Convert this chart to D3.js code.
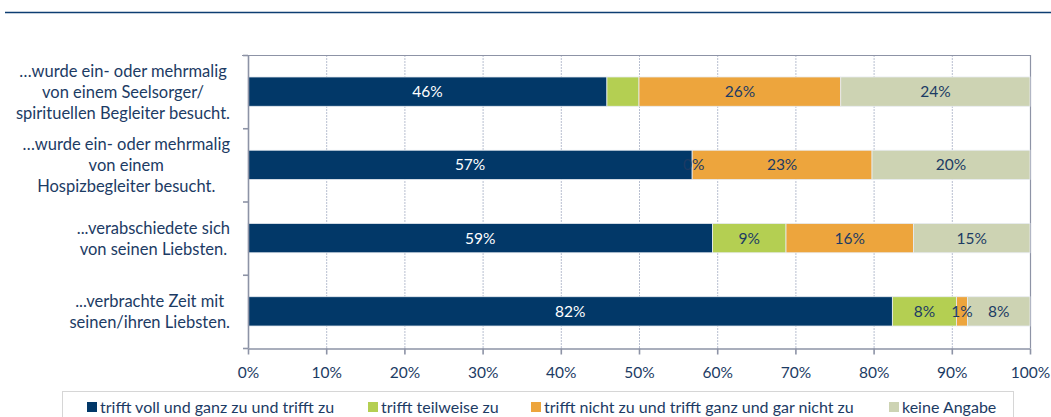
<!DOCTYPE html>
<html>
<head>
<meta charset="utf-8">
<script src="https://cdn.jsdelivr.net/npm/d3@7"></script>
<style>
  html, body { margin: 0; padding: 0; background: #fff; }
  svg { display: block; }
  text { font-family: Lato, "Open Sans", sans-serif; }
</style>
</head>
<body>
<svg id="chart" width="1051" height="417"></svg>
<script>
// ---------- data ----------
const categories = [
  ["…wurde ein- oder mehrmalig", "von einem Seelsorger/", "spirituellen Begleiter besucht."],
  ["…wurde ein- oder mehrmalig", "von einem", "Hospizbegleiter besucht."],
  ["...verabschiedete sich", "von seinen Liebsten."],
  ["...verbrachte Zeit mit", "seinen/ihren Liebsten."]
];
const seriesNames = [
  "trifft voll und ganz zu und trifft zu",
  "trifft teilweise zu",
  "trifft nicht zu und trifft ganz und gar nicht zu",
  "keine Angabe"
];
const vollZu      = [45.9, 56.8, 59.4, 82.4];
const teilweise   = [4.1, 0.0, 9.4, 8.2];
const nichtZu     = [25.8, 23.0, 16.3, 1.4];
const keineAngabe = [24.2, 20.2, 14.9, 8.0];
// which data labels are displayed (1 = shown)
const showVollZu      = [1, 1, 1, 1];
const showTeilweise   = [0, 1, 1, 1];
const showNichtZu     = [1, 1, 1, 1];
const showKeineAngabe = [1, 1, 1, 1];
const xTicks = [0, 10, 20, 30, 40, 50, 60, 70, 80, 90, 100];

// ---------- styles ----------
const colors = ["#023868", "#b4cf52", "#eda53d", "#cdd3b3"];
const labelColors = ["#ffffff", "#1c3b64", "#1c3b64", "#1c3b64"];
const textColor = "#1c3b64";
const axisColor = "#8d93a6";

const series = [vollZu, teilweise, nichtZu, keineAngabe];
const shows = [showVollZu, showTeilweise, showNichtZu, showKeineAngabe];

const svg = d3.select("#chart");

// top rule
svg.append("line")
  .attr("x1", 5).attr("x2", 1051).attr("y1", 12.5).attr("y2", 12.5)
  .attr("stroke", "#0d3d72").attr("stroke-width", 1.5);

const pLeft = 248, pRight = 1030, pTop = 55, pBottom = 348;
const x = d3.scaleLinear().domain([0, 100]).range([pLeft, pRight]);
const y = d3.scaleBand().domain(d3.range(categories.length))
  .range([pTop, pBottom]).paddingInner(0.6).paddingOuter(0.3);
const yEdge = d3.scaleLinear().domain([0, categories.length]).range([pTop, pBottom]);

// gridlines
svg.append("g").selectAll("line").data(xTicks.slice(1, -1)).join("line")
  .attr("x1", d => x(d) + 0.5).attr("x2", d => x(d) + 0.5)
  .attr("y1", pTop).attr("y2", pBottom)
  .attr("stroke", "#b8bfd0").attr("stroke-width", 1)
  .attr("stroke-dasharray", "2,1");

// plot border (top and right)
svg.append("line").attr("x1", pLeft - 6).attr("x2", pRight + 0.5)
  .attr("y1", pTop + 0.5).attr("y2", pTop + 0.5)
  .attr("stroke", axisColor).attr("stroke-width", 1.2);
svg.append("line").attr("x1", pRight + 0.5).attr("x2", pRight + 0.5)
  .attr("y1", pTop).attr("y2", pBottom)
  .attr("stroke", axisColor).attr("stroke-width", 1.2);

// stacked bars
const stacked = categories.map((c, i) => {
  let acc = 0;
  return series.map((s, k) => {
    const seg = { row: i, k, x0: acc, x1: acc + s[i], v: s[i], show: shows[k][i] };
    acc += s[i];
    return seg;
  });
}).flat();

svg.append("g").selectAll("rect").data(stacked).join("rect")
  .attr("x", d => x(d.x0))
  .attr("y", d => y(d.row))
  .attr("width", d => x(d.x1) - x(d.x0))
  .attr("height", y.bandwidth())
  .attr("fill", d => colors[d.k])
  .attr("stroke", "#e8ecf2").attr("stroke-width", 0.8);

svg.append("g").selectAll("text").data(stacked.filter(d => d.show)).join("text")
  .attr("x", d => (x(d.x0) + x(d.x1)) / 2 + (d.v === 0 ? 1.5 : 0))
  .attr("y", d => y(d.row) + y.bandwidth() / 2)
  .attr("dy", "0.36em")
  .attr("text-anchor", "middle")
  .attr("font-size", 15.5)
  .attr("fill", d => labelColors[d.k])
  .text(d => Math.round(d.v) + "%");

// y axis
const yAxis = svg.append("g").attr("transform", `translate(${pLeft},0)`)
  .call(d3.axisLeft(yEdge).tickValues(d3.range(categories.length + 1))
    .tickFormat("").tickSizeInner(5).tickSizeOuter(0));
yAxis.selectAll("path,line").attr("stroke", axisColor).attr("stroke-width", 1.6);

// category labels: block right-aligned, lines centered within block
const labG = svg.append("g");
categories.forEach((lines, i) => {
  const g = labG.append("g");
  const lh = 21;
  const cy = y(i) + y.bandwidth() / 2;
  const texts = lines.map((t, j) => g.append("text")
    .attr("y", cy + (j - (lines.length - 1) / 2) * lh)
    .attr("dy", "0.36em")
    .attr("text-anchor", "middle")
    .attr("font-size", 16.5)
    .attr("fill", textColor)
    .text(t));
  const maxW = d3.max(texts, t => t.node().getComputedTextLength());
  texts.forEach(t => t.attr("x", 230 - maxW / 2));
});

// x axis
const xAxis = svg.append("g").attr("transform", `translate(0,${pBottom + 0.5})`)
  .call(d3.axisBottom(x).tickValues(xTicks).tickFormat(d => d + "%")
    .tickSizeInner(6).tickSizeOuter(0).tickPadding(12));
xAxis.selectAll("path,line").attr("stroke", axisColor).attr("stroke-width", 1.6);
xAxis.selectAll("text").attr("font-size", 15.5).attr("fill", textColor)
  .attr("font-family", "Lato, sans-serif");

// legend
const lg = svg.append("g");
lg.append("rect").attr("x", 62.5).attr("y", 391.5).attr("width", 951).attr("height", 40)
  .attr("fill", "none").attr("stroke", "#d6d6d6").attr("stroke-width", 1);
const legendX = [87, 368, 531, 889];
seriesNames.forEach((name, k) => {
  lg.append("rect").attr("x", legendX[k]).attr("y", 402).attr("width", 10).attr("height", 10)
    .attr("fill", colors[k]);
  lg.append("text").attr("x", legendX[k] + 13).attr("y", 407).attr("dy", "0.36em")
    .attr("font-size", 16).attr("fill", textColor).text(name);
});
</script>
</body>
</html>
